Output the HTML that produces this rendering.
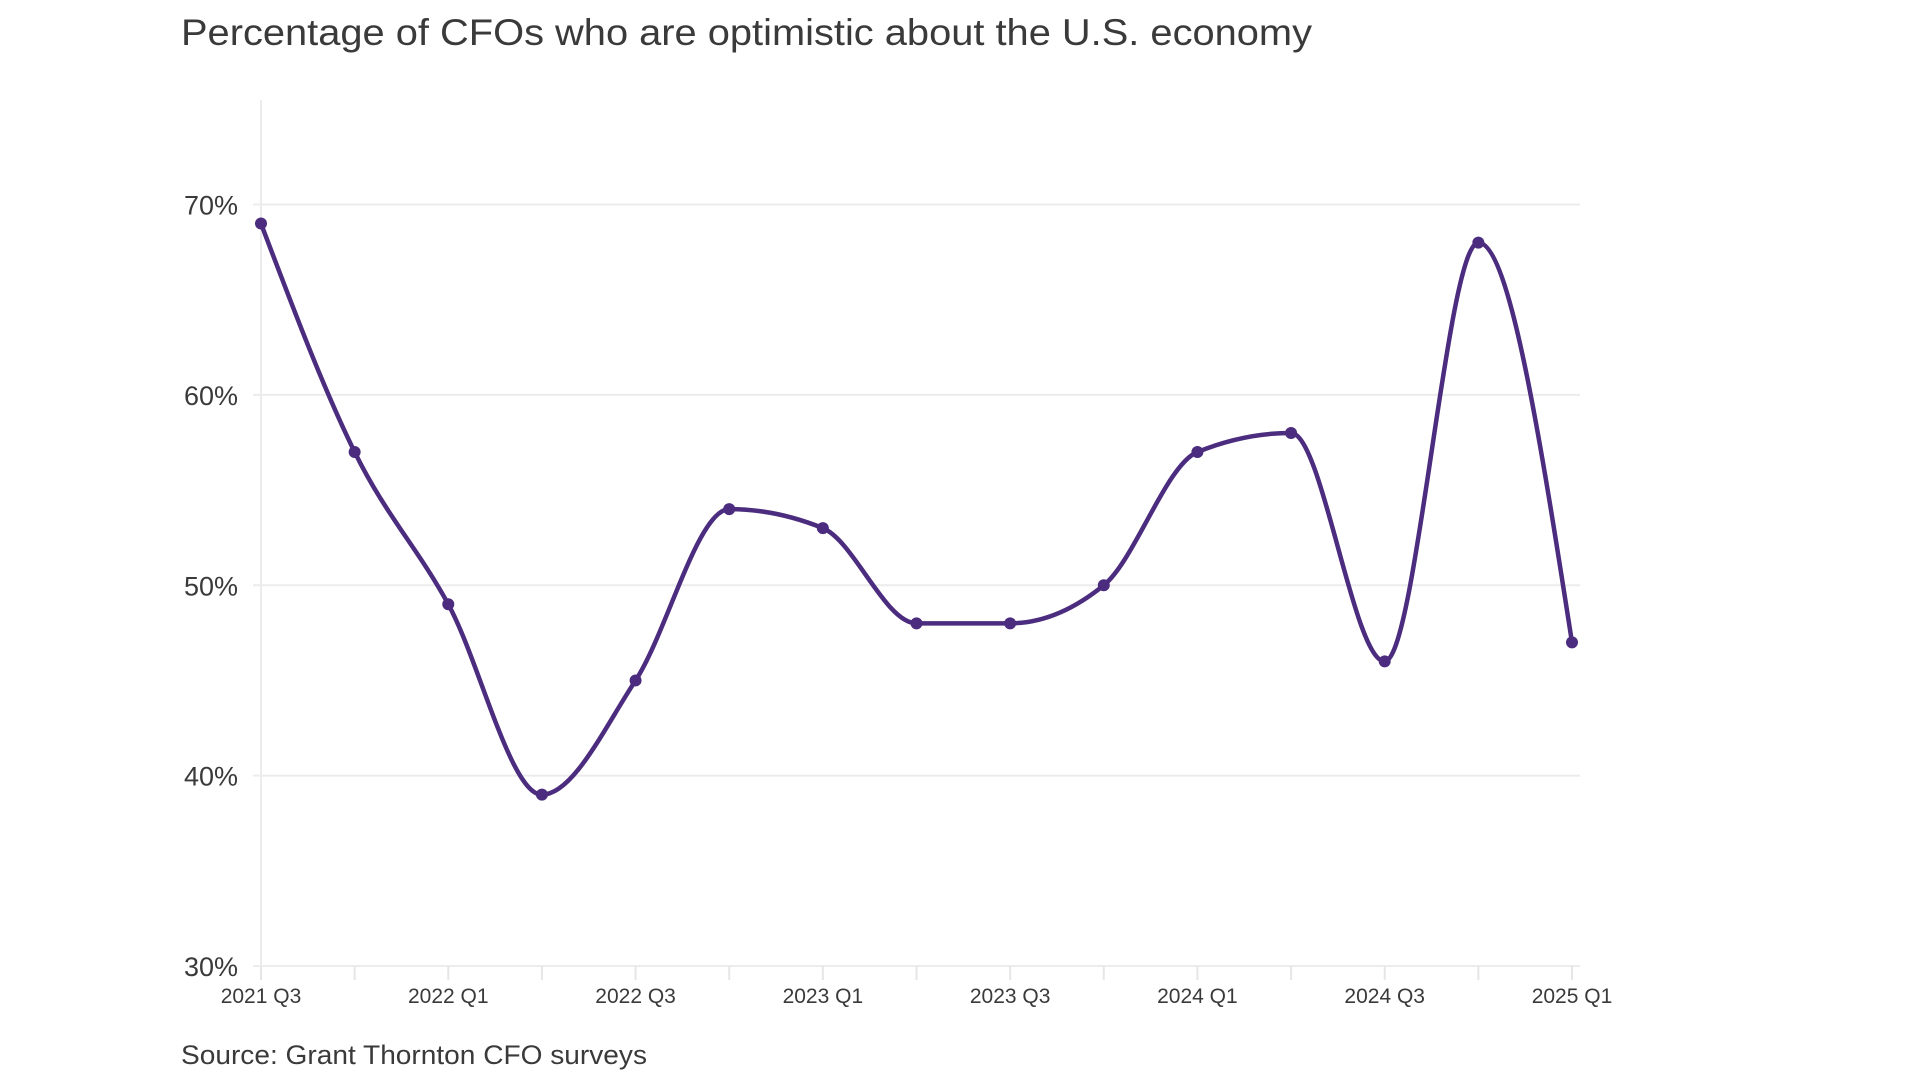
<!DOCTYPE html>
<html><head><meta charset="utf-8"><style>
html,body{margin:0;padding:0;background:#fff;width:1920px;height:1080px;overflow:hidden}
svg text{font-family:"Liberation Sans",sans-serif;fill:#3a3a3a}
</style></head><body>
<svg id="c" width="1920" height="1080">
<text x="181" y="45" font-size="37" textLength="1131" lengthAdjust="spacingAndGlyphs">Percentage of CFOs who are optimistic about the U.S. economy</text>
<text x="181" y="1064" font-size="27" textLength="466" lengthAdjust="spacingAndGlyphs">Source: Grant Thornton CFO surveys</text>
<g id="grid"></g><g id="axes"></g><g id="series"></g>
</svg>
<script>
const categories=["2021 Q3","2021 Q4","2022 Q1","2022 Q2","2022 Q3","2022 Q4","2023 Q1","2023 Q2","2023 Q3","2023 Q4","2024 Q1","2024 Q2","2024 Q3","2024 Q4","2025 Q1"];
const values=[69,57,49,39,45,54,53,48,48,50,57,58,46,68,47];
const yTicks=[30,40,50,60,70];
const yTickLabels=["30%","40%","50%","60%","70%"];
const xLabelIdx=[0,2,4,6,8,10,12,14];
const NS="http://www.w3.org/2000/svg";
const X0=261,X1=1572,Y30=966,Y70=204.5;
function x(i){return X0+(X1-X0)*i/(categories.length-1);}
function y(v){return Y30+(v-30)*(Y70-Y30)/40;}
function mk(t,a,p){const e=document.createElementNS(NS,t);for(const k in a)e.setAttribute(k,a[k]);p.appendChild(e);return e;}
const grid=document.getElementById('grid'),axes=document.getElementById('axes'),ser=document.getElementById('series');
yTicks.forEach((v,k)=>{
 const l=mk('line',{x1:X0-8,x2:1580,y1:y(v),y2:y(v),stroke:'#ececec','stroke-width':2},grid);
 
 
 const t=mk('text',{x:238,y:y(v)+10,'font-size':27,'text-anchor':'end'},axes);t.textContent=yTickLabels[k];
 
 
});
const ax=mk('line',{x1:X0,x2:X0,y1:100,y2:978,stroke:'#ececec','stroke-width':2},grid);


categories.forEach((c,i)=>{
 const tk=mk('line',{x1:x(i),x2:x(i),y1:Y30,y2:Y30+14,stroke:'#e6e6e6','stroke-width':2},grid);
 
 
 if(xLabelIdx.includes(i)){const t=mk('text',{x:x(i),y:Y30+37,'font-size':21,'text-anchor':'middle'},axes);t.textContent=c;
 
 }
});
const P=values.map((v,i)=>[x(i),y(v)]);const n=P.length;
const d=[],m=[];for(let i=0;i<n-1;i++){d.push((P[i+1][1]-P[i][1])/(P[i+1][0]-P[i][0]));}
for(let i=0;i<n;i++){
 if(i==0)m.push(d[0]);else if(i==n-1)m.push(d[n-2]);
 else{const a=d[i-1],b=d[i];if(a*b<=0)m.push(0);else{const h0=P[i][0]-P[i-1][0],h1=P[i+1][0]-P[i][0];const p=(a*h1+b*h0)/(h0+h1);m.push((Math.sign(a)+Math.sign(b))*Math.min(Math.abs(a),Math.abs(b),0.5*Math.abs(p)));}}
}
m[0]=(3*d[0]-m[1])/2;m[n-1]=(3*d[n-2]-m[n-2])/2;
let path='M'+P[0][0]+','+P[0][1];
for(let i=0;i<n-1;i++){const h=(P[i+1][0]-P[i][0])/3;
 path+=' C'+(P[i][0]+h)+','+(P[i][1]+h*m[i])+' '+(P[i+1][0]-h)+','+(P[i+1][1]-h*m[i+1])+' '+P[i+1][0]+','+P[i+1][1];}
const ln=mk('path',{d:path,fill:'none',stroke:'#4b2c7e','stroke-width':4.5},ser);


P.forEach((p,i)=>{const c=mk('circle',{cx:p[0],cy:p[1],r:6,fill:'#4b2c7e'},ser);
 
 });
</script>
</body></html>
